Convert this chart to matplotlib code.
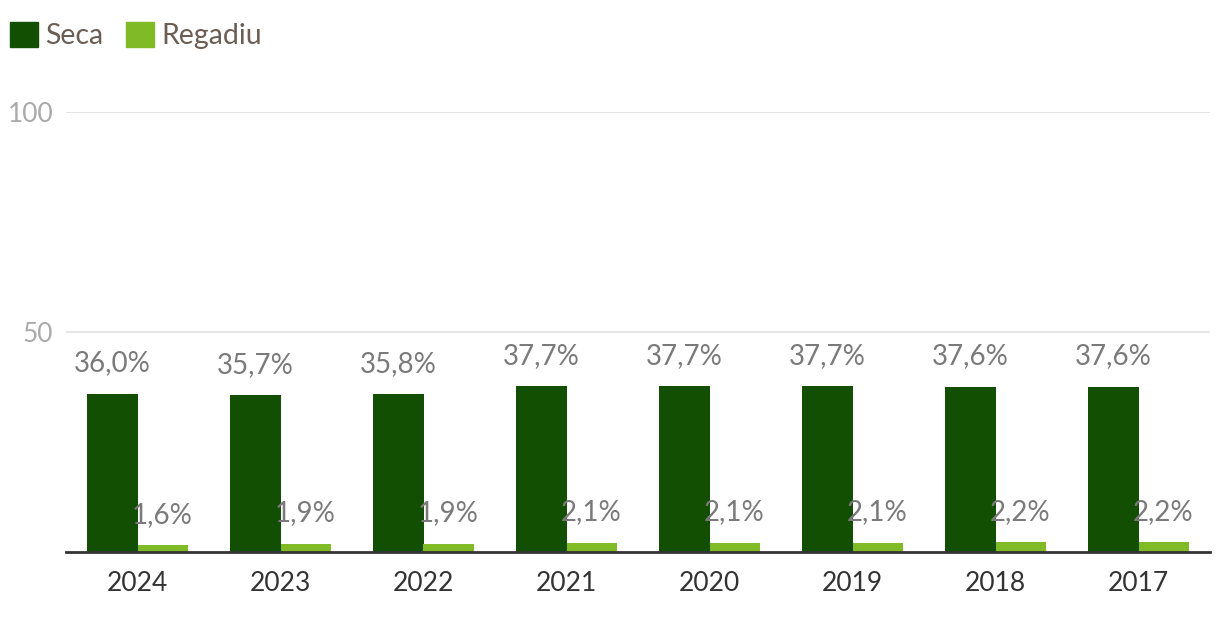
import numpy as np
import matplotlib.pyplot as plt
from matplotlib.patches import Patch

# data
years = ['2024', '2023', '2022', '2021', '2020', '2019', '2018', '2017']
seca = [36.0, 35.7, 35.8, 37.7, 37.7, 37.7, 37.6, 37.6]
regadiu = [1.6, 1.9, 1.9, 2.1, 2.1, 2.1, 2.2, 2.2]
y_ticks = [50, 100]

# colors
c_seca = '#134f02'
c_reg = '#80ba27'

plt.rcParams['font.family'] = ['Lato', 'DejaVu Sans']

fig = plt.figure(figsize=(12.2, 6.28), dpi=100)
ax = fig.add_axes([66/1220, 76/628, 1144/1220, 440/628])

x = np.arange(len(years))
w = 0.35
b1 = ax.bar(x - w/2, seca, w, color=c_seca)
b2 = ax.bar(x + w/2, regadiu, w, color=c_reg)

def fmt(v):
    return f'{v:.1f}'.replace('.', ',') + '%'

for bars, vals in ((b1, seca), (b2, regadiu)):
    for r, v in zip(bars, vals):
        ax.annotate(fmt(v), (r.get_x() + r.get_width()/2, v),
                    xytext=(0, 16), textcoords='offset points',
                    ha='center', va='baseline', fontsize=20, color='#7a7a7a')

ax.set_xlim(-0.5, len(years) - 0.5)
ax.set_ylim(0, 100)
ax.set_yticks(y_ticks)
ax.set_xticks(x)
ax.set_xticklabels(years)
ax.tick_params(axis='y', length=0, pad=9, labelsize=19, labelcolor='#aaaaaa')
ax.tick_params(axis='x', length=0, pad=14, labelsize=19, labelcolor='#333333')
ax.grid(axis='y', color='#e3e3e3', linewidth=1.3)
ax.set_axisbelow(True)
for s in ('top', 'right', 'left'):
    ax.spines[s].set_visible(False)
ax.spines['bottom'].set_color('#333333')
ax.spines['bottom'].set_linewidth(2)
ax.spines['bottom'].set_zorder(5)

handles = [Patch(color=c_seca, label='Seca'), Patch(color=c_reg, label='Regadiu')]
leg = fig.legend(handles=handles, loc='upper left',
                 bbox_to_anchor=(10/1220, 1 - 22/628),
                 ncol=2, frameon=False, fontsize=20.5, handlelength=0.98,
                 handleheight=0.98, handletextpad=0.25, columnspacing=0.8,
                 borderaxespad=0, borderpad=0)
for t in leg.get_texts():
    t.set_color('#6b5e55')

fig.savefig('out.png', dpi=100, facecolor='white')
